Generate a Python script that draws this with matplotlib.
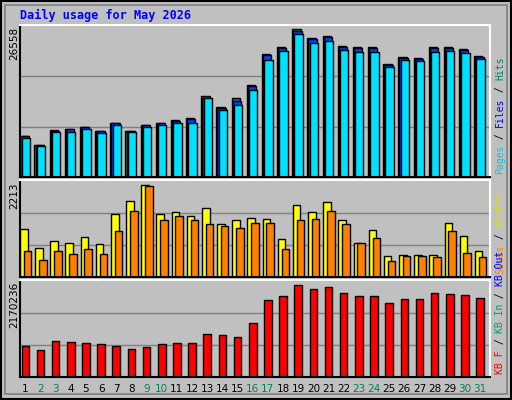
import numpy as np
import matplotlib
matplotlib.use("Agg")
import matplotlib.pyplot as plt

days = list(range(1, 32))
weekend = [2, 3, 9, 10, 16, 17, 23, 24, 30, 31]

hits = [7260, 5670, 8320, 8500, 8850, 8140, 9560, 8140, 9200, 9560, 10090, 10440,
        14160, 12210, 13810, 16110, 21600, 22840, 26020, 24430, 24780, 23010, 22840,
        22840, 19830, 21070, 20890, 22840, 22840, 22480, 21240]
files = [7150, 5600, 8150, 8350, 8700, 8000, 9400, 8000, 9050, 9400, 9900, 10200,
         13900, 12050, 13300, 15950, 21350, 22600, 25700, 24200, 24500, 22800, 22600,
         22600, 19600, 20850, 20650, 22600, 22600, 22250, 21050]
pages = [6900, 5400, 7950, 7950, 8450, 7800, 9050, 7850, 8850, 9050, 9550, 9560,
         13800, 11700, 12730, 15250, 20550, 22100, 25100, 23600, 23900, 22250, 22000,
         22000, 19300, 20500, 20300, 21950, 22050, 21700, 20800]
visits = [1106, 672, 832, 786, 923, 763, 1450, 1747, 2114, 1450, 1496, 1404, 1587,
          1221, 1312, 1358, 1337, 876, 1660, 1498, 1729, 1314, 784, 1083, 484, 507,
          507, 507, 1245, 945, 599]
sites = [587, 397, 587, 534, 648, 534, 1061, 1519, 2091, 1312, 1404, 1312, 1221,
         1175, 1129, 1236, 1245, 645, 1314, 1337, 1521, 1222, 784, 899, 369, 484,
         484, 461, 1060, 553, 461]
kbytes = [695700, 604900, 809100, 786500, 763700, 741100, 695700, 627600, 673000,
          741100, 763700, 763700, 967900, 945200, 899800, 1217500, 1740700, 1831000,
          2079800, 1989400, 2034600, 1899000, 1831000, 1831000, 1672900, 1763300,
          1763300, 1899000, 1876400, 1853800, 1785900]

max_hits, max_visits, max_kb = 26558, 2213, 2170236
bg = "#c0c0c0"
x = np.array(days)

fig = plt.figure(figsize=(5.12, 4.0), dpi=100, facecolor=bg)
W, H = 512, 400

# outer bevel
fig.add_artist(plt.Rectangle((1 / W, 1 / H), 510 / W, 398 / H, transform=fig.transFigure,
                             fill=False, edgecolor="black", lw=1.5))
fig.add_artist(plt.Rectangle((5 / W, 6 / H), 502 / W, 389 / H, transform=fig.transFigure,
                             fill=False, edgecolor="#808080", lw=1.2))

fig.text(20 / W, 1 - 15 / H, "Daily usage for May 2026", color="#0000ff",
         family="DejaVu Sans Mono", weight="bold", fontsize=8.5, va="center")


def panel(top, bottom, vmax, label):
    ax = fig.add_axes([20 / W, 1 - bottom / H, 470 / W, (bottom - top) / H])
    ax.set_facecolor(bg)
    ax.set_xlim(0.55, 31.55)
    ax.set_ylim(0, vmax * 1.005)
    for g in (vmax / 3, vmax * 2 / 3):
        ax.axhline(g, color="#808080", lw=1, zorder=0)
    ax.set_xticks([])
    ax.set_yticks([])
    for s in ("left", "bottom"):
        ax.spines[s].set_color("black")
    for s in ("top", "right"):
        ax.spines[s].set_color("white")
    for s in ax.spines.values():
        s.set_linewidth(1.5)
    fig.text(14 / W, 1 - (top + 2) / H, label, rotation=90, ha="center", va="top",
             fontsize=7.5)
    return ax


ax1 = panel(25, 177, max_hits, str(max_hits))
ax1.bar(x - 0.22, hits, width=0.55, color="#00805c", edgecolor="black", lw=1)
ax1.bar(x - 0.15, files, width=0.55, color="#0040ff", edgecolor="black", lw=1)
ax1.bar(x - 0.07, pages, width=0.55, color="#00e0ff", edgecolor="black", lw=1)

ax2 = panel(180, 277, max_visits, str(max_visits))
ax2.bar(x - 0.2, visits, width=0.5, color="#ffff00", edgecolor="black", lw=1)
ax2.bar(x + 0.05, sites, width=0.5, color="#ff8000", edgecolor="black", lw=1)

ax3 = panel(280, 377, max_kb, str(max_kb))
ax3.bar(x - 0.1, kbytes, width=0.5, color="#ff0000", edgecolor="black", lw=1)

for d in days:
    xp = (20 + (d - 0.55 - 0.1) / 31 * 470) / W
    fig.text(xp, 1 - 389 / H, str(d), ha="center", va="center", fontsize=7.5,
             color="#00805c" if d in weekend else "black")

renderer = fig.canvas.get_renderer()


def side(parts, bottom):
    # stack rotated pieces bottom-to-top, measuring each one
    y = 1 - bottom / H + 3 / H
    pieces = []
    for i, (txt, col) in enumerate(parts):
        pieces.append((txt, col))
        if i < len(parts) - 1:
            pieces.append((" / ", "black"))
    for txt, col in pieces:
        t = fig.text(500 / W, y, txt, rotation=90, ha="center", va="bottom", color=col,
                     family="DejaVu Sans Mono", fontsize=7)
        ext = t.get_window_extent(renderer)
        y += ext.height / (H)


side([("Pages", "#00c8e0"), ("Files", "#0000ff"), ("Hits", "#00805c")], 177)
side([("Sites", "#ff8000"), ("Visits", "#e0e000")], 277)
side([("KB F", "#ff0000"), ("KB In", "#00a060"), ("KB Out", "#0000ff")], 377)

fig.savefig("out.png", dpi=100, facecolor=bg)
